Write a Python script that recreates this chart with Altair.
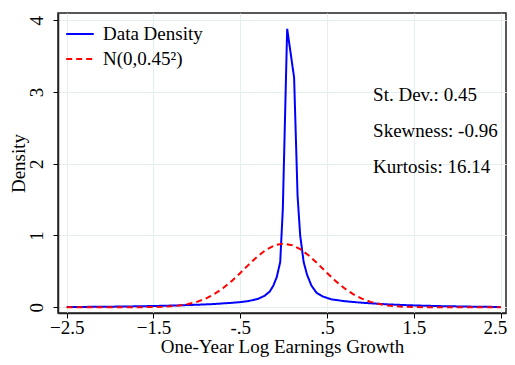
import altair as alt
import pandas as pd

# Data density
dens_x = [-2.5, -2.2, -2.0, -1.8, -1.6, -1.4, -1.2, -1.0, -0.8, -0.6, -0.5, -0.4,
          -0.3, -0.22, -0.16, -0.12, -0.08, -0.04, -0.01, 0.04, 0.12, 0.16, 0.19,
          0.23, 0.27, 0.32, 0.38, 0.45, 0.55, 0.7, 0.85, 1.0, 1.2, 1.4, 1.6, 1.8,
          2.0, 2.2, 2.5]
dens_y = [0.003, 0.006, 0.008, 0.011, 0.015, 0.02, 0.027, 0.035, 0.045, 0.062, 0.072, 0.088,
          0.115, 0.16, 0.22, 0.3, 0.42, 0.63, 1.37, 3.88, 3.2, 1.55, 1.0,
          0.63, 0.45, 0.3, 0.2, 0.15, 0.11, 0.085, 0.068, 0.055, 0.04, 0.03, 0.022, 0.016,
          0.012, 0.008, 0.004]

# Normal reference N(0, 0.45^2)
norm_x = [-2.5, -2.0, -1.8, -1.6, -1.5, -1.4, -1.3, -1.2, -1.1, -1.0, -0.9, -0.8, -0.7,
          -0.6, -0.5, -0.4, -0.3, -0.2, -0.1, 0.0, 0.1, 0.2, 0.3, 0.4, 0.5, 0.6, 0.7,
          0.8, 0.9, 1.0, 1.1, 1.2, 1.3, 1.4, 1.5, 1.6, 1.8, 2.0, 2.5]
norm_y = [0.0, 0.0, 0.0003, 0.0016, 0.0034, 0.007, 0.0137, 0.0253, 0.0447, 0.0751, 0.120,
          0.183, 0.264, 0.364, 0.478, 0.597, 0.710, 0.803, 0.865, 0.8865, 0.865, 0.803,
          0.710, 0.597, 0.478, 0.364, 0.264, 0.183, 0.120, 0.0751, 0.0447, 0.0253, 0.0137,
          0.007, 0.0034, 0.0016, 0.0003, 0.0, 0.0]

series_names = ["Data Density", "N(0,0.45²)"]
series_colors = ["#0000ff", "#ff0000"]

stat_labels = ["St. Dev.: 0.45", "Skewness: -0.96", "Kurtosis: 16.14"]
stat_x = [1.03, 1.03, 1.03]
stat_y = [2.96, 2.45, 1.95]

x_ticks = [-2.5, -1.5, -0.5, 0.5, 1.5, 2.5]
y_ticks = [0, 1, 2, 3, 4]

df_d = pd.DataFrame({"x": dens_x, "y": dens_y, "s": series_names[0]})
df_n = pd.DataFrame({"x": norm_x, "y": norm_y, "s": series_names[1]})
df_t = pd.DataFrame({"x": stat_x, "y": stat_y, "t": stat_labels})

FONT = "Liberation Serif"

xenc = alt.X("x:Q", scale=alt.Scale(domain=[-2.6, 2.561], nice=False, zero=False),
             axis=alt.Axis(values=x_ticks, title="One-Year Log Earnings Growth",
                           labelAlign={"condition": {"test": "datum.value == 2.5", "value": "right"}, "value": "center"},
                           labelOffset={"condition": {"test": "datum.value == 2.5", "value": 6}, "value": 0},
                           labelExpr="datum.value == 0.5 ? '.5' : datum.value == -0.5 ? '-.5' : format(datum.value, '.1f')"))
yenc = alt.Y("y:Q", scale=alt.Scale(domain=[-0.08, 4.1], nice=False, zero=False),
             axis=alt.Axis(values=y_ticks, title="Density", labelAngle=270, format="d",
                           labelAlign="center", labelBaseline="bottom",
                           titleX=-30, titleBaseline="bottom"))

color = alt.Color("s:N", scale=alt.Scale(domain=series_names, range=series_colors),
                  legend=alt.Legend(title=None, orient="none", legendX=7, legendY=6,
                                    labelFont=FONT, labelFontSize=19, labelColor="black",
                                    symbolType="stroke", symbolSize=760, symbolStrokeWidth=2,
                                    rowPadding=-4, labelOffset=8))
dash = alt.StrokeDash("s:N", scale=alt.Scale(domain=series_names, range=[[1, 0], [6, 4]]),
                      legend=None)

blue = alt.Chart(df_d).mark_line(strokeWidth=2).encode(x=xenc, y=yenc, color=color, strokeDash=dash)
red = alt.Chart(df_n).mark_line(strokeWidth=2).encode(x=xenc, y=yenc, color=color, strokeDash=dash)
txt = alt.Chart(df_t).mark_text(align="left", baseline="middle", font=FONT, fontSize=19,
                                color="black").encode(x="x:Q", y="y:Q", text="t:N")

chart = alt.layer(blue, red, txt).properties(
    width=448, height=300,
    autosize=alt.AutoSizeParams(type="none"),
    padding={"left": 50, "top": 5, "right": 1, "bottom": 44},
).configure_view(stroke="#222222", strokeWidth=1.5).configure_axis(
    labelFont=FONT, titleFont=FONT, labelFontSize=19, titleFontSize=19,
    labelColor="black", titleColor="black", titleFontWeight="normal",
    gridColor="#e6eff0", gridWidth=1, tickColor="black", tickSize=5,
    domainColor="#222222", domainWidth=1.5,
).configure_axisX(labelPadding=0, titlePadding=0).configure_axisY(labelPadding=7)

chart.save("out.html", embed_options={"renderer": "svg", "actions": False})
